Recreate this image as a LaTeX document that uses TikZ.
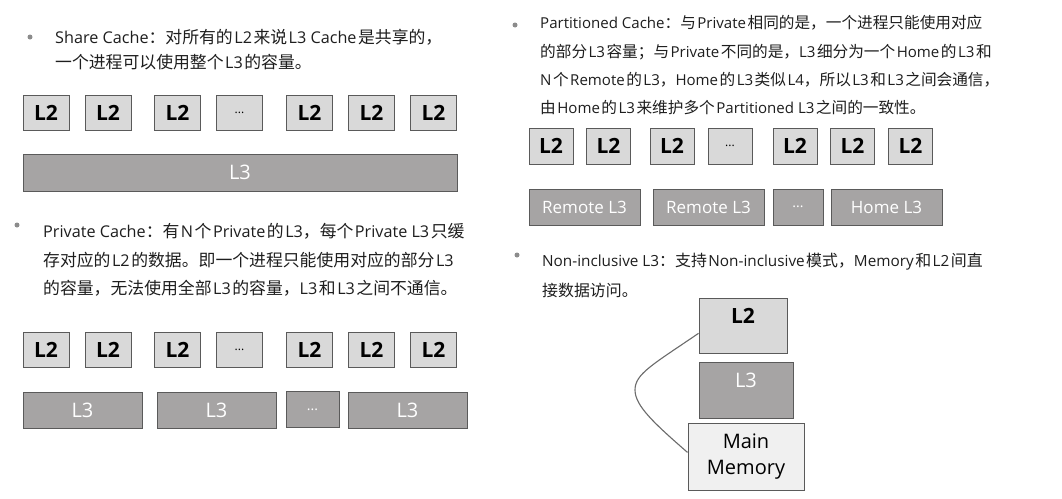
\documentclass[tikz,border=0pt]{standalone}
\usepackage{fontspec}
\setmainfont{Open Sans}
\newfontfamily\cjkfont{Noto Sans CJK SC}[Scale=1.04]
\newfontfamily\boxfont{Open Sans}
\XeTeXinterchartokenstate=1
\newXeTeXintercharclass\CJKcls
\newXeTeXintercharclass\CJKpcls
\def\setcjkrange#1#2#3{\count255=#1\relax
  \loop\XeTeXcharclass\count255=#3\relax
  \ifnum\count255<#2\relax\advance\count255 by 1\repeat}
\setcjkrange{"3000}{"303F}{\CJKpcls}
\setcjkrange{"4E00}{"9FFF}{\CJKcls}
\setcjkrange{"FF00}{"FFEF}{\CJKpcls}
\def\cjklat{\hskip1.5pt\relax}
\XeTeXinterchartoks 0 \CJKcls = {\cjklat\begingroup\cjkfont}
\XeTeXinterchartoks 4095 \CJKcls = {\begingroup\cjkfont}
\XeTeXinterchartoks 0 \CJKpcls = {\begingroup\cjkfont}
\XeTeXinterchartoks 4095 \CJKpcls = {\begingroup\cjkfont}
\XeTeXinterchartoks \CJKcls 0 = {\endgroup\cjklat}
\XeTeXinterchartoks \CJKcls 4095 = {\endgroup}
\XeTeXinterchartoks \CJKpcls 0 = {\endgroup}
\XeTeXinterchartoks \CJKpcls 4095 = {\endgroup}
\definecolor{lgray}{HTML}{D9D9D9}
\definecolor{dgray}{HTML}{A6A4A4}
\definecolor{mgray}{HTML}{F0F0F0}
\definecolor{bordc}{HTML}{5A5A5A}
\definecolor{txtc}{HTML}{1E1E1E}
\definecolor{dotc}{HTML}{8C8C8C}
\begin{document}
\begin{tikzpicture}[x=1pt,y=-1pt,
  lineL/.style={anchor=west,inner sep=0pt,font=\fontsize{16.2}{16}\selectfont,text=txtc},
  lineR/.style={anchor=west,inner sep=0pt,font=\fontsize{15.3}{16}\selectfont,text=txtc},
  lineP/.style={anchor=west,inner sep=0pt,font=\fontsize{15.05}{16}\selectfont,text=txtc},
  dot/.style={circle,fill=dotc,inner sep=0pt,minimum size=5pt},
  ltwo/.style={draw=bordc,line width=1pt,fill=lgray,inner sep=0pt,minimum width=46,minimum height=35,font=\boxfont\bfseries\fontsize{21}{21}\selectfont},
  ltwodots/.style={ltwo,font=\boxfont\fontsize{12}{12}\selectfont},
  lthree/.style={draw=bordc,line width=1pt,fill=dgray,inner sep=0pt,minimum height=36,text=white,font=\boxfont\fontsize{20}{20}\selectfont},
  lthreedots/.style={lthree,font=\boxfont\fontsize{14}{14}\selectfont},
  remote/.style={lthree,font=\boxfont\fontsize{17}{17}\selectfont},
  mainmem/.style={draw=bordc,line width=1pt,fill=mgray,inner sep=0pt,align=center,font=\boxfont\fontsize{20}{26}\selectfont,text=black},
  link/.style={draw=bordc!90,line width=1.1pt}
]
\useasboundingbox[fill=white] (0,0) rectangle (1062,498);

% ---- Share Cache ----
\node[dot] (b1) at (30,37) {};
\node[lineL] (t1a) at (55,37) {Share Cache：对所有的L2来说L3 Cache是共享的，};
\node[lineL] (t1b) at (55,62) {一个进程可以使用整个L3的容量。};
\foreach \n/\cx in {1/46,2/108,3/177.5,5/309.5,6/371.5,7/433.5}
  \node[ltwo] (sa\n) at (\cx,112.5) {L2};
\node[ltwodots] (sa4) at (239.5,112.5) {...};
\node[lthree,minimum width=434,minimum height=37] (sl3) at (240,172.5) {L3};

% ---- Private Cache ----
\node[dot] (b2) at (17,225) {};
\node[lineL] (t2a) at (43,231) {Private Cache：有N个Private的L3，每个Private L3只缓};
\node[lineL] (t2b) at (43,260) {存对应的L2的数据。即一个进程只能使用对应的部分L3};
\node[lineL] (t2c) at (43,288) {的容量，无法使用全部L3的容量，L3和L3之间不通信。};
\foreach \n/\cx in {1/46,2/108,3/177.5,5/309.5,6/371.5,7/433.5}
  \node[ltwo] (pa\n) at (\cx,349.5) {L2};
\node[ltwodots] (pa4) at (239.5,349.5) {...};
\node[lthree,minimum width=119] (pb1) at (82.5,410.5) {L3};
\node[lthree,minimum width=119] (pb2) at (216.5,410.5) {L3};
\node[lthreedots,minimum width=53] (pb3) at (312.5,409.5) {...};
\node[lthree,minimum width=119] (pb4) at (407.5,410.5) {L3};

% ---- Partitioned Cache ----
\node[dot] (b3) at (515,25) {};
\node[lineP] (t3a) at (540,23) {Partitioned Cache：与Private相同的是，一个进程只能使用对应};
\node[lineP] (t3b) at (540,52) {的部分L3容量；与Private不同的是，L3细分为一个Home的L3和};
\node[lineP] (t3c) at (540,80) {N个Remote的L3，Home的L3类似L4，所以L3和L3之间会通信，};
\node[lineP] (t3d) at (540,108) {由Home的L3来维护多个Partitioned L3之间的一致性。};
\foreach \n/\cx in {1/551,2/608.5,3/672,5/795,6/852.5,7/910.5}
  \node[ltwo,minimum width=44,minimum height=36] (qa\n) at (\cx,146) {L2};
\node[ltwodots,minimum width=44,minimum height=36] (qa4) at (730,146) {...};
\node[remote,minimum width=111] (qb1) at (584.5,207) {Remote L3};
\node[remote,minimum width=111] (qb2) at (708.5,207) {Remote L3};
\node[lthreedots,minimum width=50] (qb3) at (798,207) {...};
\node[remote,minimum width=111] (qb4) at (886.5,207) {Home L3};

% ---- Non-inclusive L3 ----
\node[dot] (b4) at (517,255) {};
\node[lineR] (t4a) at (542,262) {Non-inclusive L3：支持Non-inclusive模式，Memory和L2间直};
\node[lineR] (t4b) at (542,290) {接数据访问。};
\node[ltwo,minimum width=88,minimum height=55,text height=25.5pt,text depth=29.5pt] (nl2) at (743,325.5) {L2};
\node[lthree,minimum width=94,minimum height=56,text height=25pt,text depth=31pt] (nl3) at (746,390) {L3};
\node[mainmem,minimum width=116,minimum height=67] (mm) at (746,456.5) {Main\\Memory};
\coordinate (bend) at (635,390);
\draw[link] (nl2.190) .. controls (652,365) and (635,374) .. (bend)
  .. controls (635,406) and (655,424) .. (mm.176);
\end{tikzpicture}
\end{document}
